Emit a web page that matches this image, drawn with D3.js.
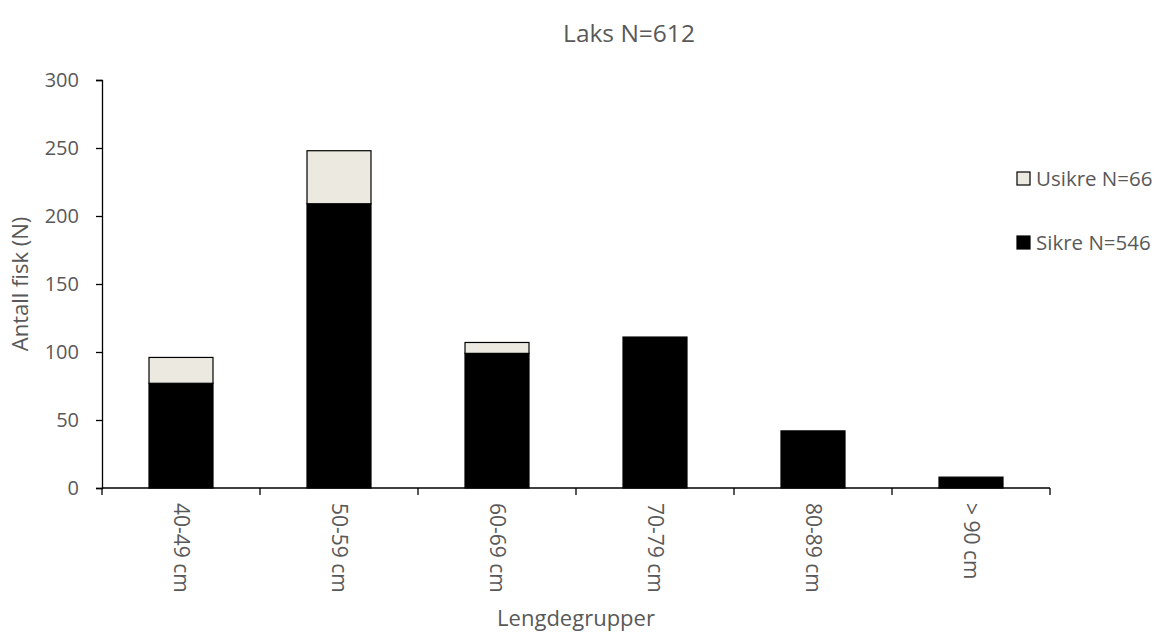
<!DOCTYPE html>
<html>
<head>
<meta charset="utf-8">
<script src="https://cdn.jsdelivr.net/npm/d3@7"></script>
<style>
  body { margin: 0; background: #fff; }
  svg text { font-family: "Open Sans", "Liberation Sans", sans-serif; fill: #595959; }
</style>
</head>
<body>
<svg width="1163" height="635"></svg>
<script>
let categories = ["40-49 cm", "50-59 cm", "60-69 cm", "70-79 cm", "80-89 cm", "> 90 cm"];
let sikre = [77, 209, 99, 111, 42, 8];
let usikre = [19, 39, 8, 0, 0, 0];
let yTicks = [0, 50, 100, 150, 200, 250, 300];
let seriesNames = ["Usikre N=66", "Sikre N=546"];
let seriesColors = {"Sikre": "#000000", "Usikre": "#eceae0"};

let svg = d3.select("svg"),
    margin = {top: 80, right: 113, bottom: 147, left: 102},
    width = +svg.attr("width") - margin.left - margin.right,
    height = +svg.attr("height") - margin.top - margin.bottom;

let x = d3.scaleBand().domain(categories).range([0, width]).paddingInner(0.595).paddingOuter(0.2975),
    y = d3.scaleLinear().domain([0, 300]).range([height, 0]);

let data = categories.map((c, i) => ({cat: c, Sikre: sikre[i], Usikre: usikre[i]}));
let stacked = d3.stack().keys(["Sikre", "Usikre"])(data);

let g = svg.append("g")
    .attr("transform", "translate(" + margin.left + "," + margin.top + ")");

// bars
g.selectAll(".layer")
    .data(stacked)
    .enter().append("g")
    .attr("class", "layer")
    .attr("fill", d => seriesColors[d.key])
    .selectAll("rect")
    .data(d => d.filter(v => v[1] > v[0]))
    .enter().append("rect")
    .attr("x", d => x(d.data.cat))
    .attr("y", d => y(d[1]))
    .attr("width", x.bandwidth())
    .attr("height", d => y(d[0]) - y(d[1]))
    .attr("stroke", "#000")
    .attr("stroke-width", 1.2);

// y axis
let yAxis = g.append("g")
    .call(d3.axisLeft(y).tickValues(yTicks).tickSize(6).tickPadding(17));
yAxis.select(".domain").attr("stroke", "#000").attr("stroke-width", 1.3);
yAxis.selectAll(".tick line").attr("stroke", "#000").attr("stroke-width", 1.3);
yAxis.selectAll("text").style("font-size", "20px").attr("fill", "#595959");

// x axis with ticks between categories
let xAxis = g.append("g").attr("transform", "translate(0," + height + ")");
xAxis.append("line")
    .attr("x1", 0).attr("x2", width)
    .attr("stroke", "#000").attr("stroke-width", 1.3);
let bounds = d3.range(categories.length + 1).map(i => i * x.step());
xAxis.selectAll(".xt")
    .data(bounds)
    .enter().append("line")
    .attr("x1", d => d).attr("x2", d => d)
    .attr("y1", 0).attr("y2", 7)
    .attr("stroke", "#000").attr("stroke-width", 1.3);
xAxis.selectAll(".xl")
    .data(categories)
    .enter().append("text")
    .attr("transform", d => "translate(" + (x(d) + x.bandwidth() / 2) + ",15) rotate(90)")
    .attr("dy", "0.35em")
    .attr("text-anchor", "start")
    .style("font-size", "21px")
    .text(d => d);

// titles
svg.append("text")
    .attr("x", 629).attr("y", 42)
    .attr("text-anchor", "middle")
    .style("font-size", "24.5px")
    .text("Laks N=612");

svg.append("text")
    .attr("transform", "translate(28," + (margin.top + height / 2) + ") rotate(-90)")
    .attr("text-anchor", "middle")
    .style("font-size", "22px")
    .text("Antall fisk (N)");

svg.append("text")
    .attr("x", margin.left + width / 2).attr("y", 626)
    .attr("text-anchor", "middle")
    .style("font-size", "22px")
    .text("Lengdegrupper");

// legend
let legend = svg.append("g").attr("transform", "translate(1017,172)");
let legendItems = [{name: seriesNames[0], key: "Usikre"}, {name: seriesNames[1], key: "Sikre"}];
let li = legend.selectAll(".li")
    .data(legendItems)
    .enter().append("g")
    .attr("transform", (d, i) => "translate(0," + i * 64 + ")");
li.append("rect")
    .attr("width", 13).attr("height", 13)
    .attr("fill", d => seriesColors[d.key])
    .attr("stroke", "#000").attr("stroke-width", 1.2);
li.append("text")
    .attr("x", 19).attr("y", 7)
    .attr("dy", "0.35em")
    .style("font-size", "20.5px")
    .text(d => d.name);
</script>
</body>
</html>
